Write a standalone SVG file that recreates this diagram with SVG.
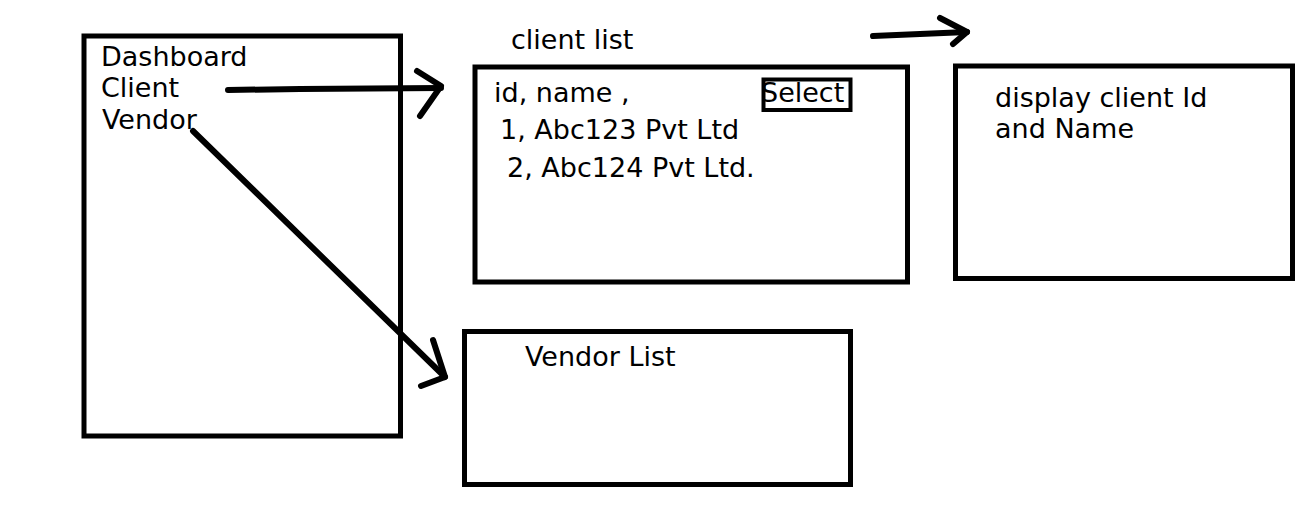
<svg xmlns="http://www.w3.org/2000/svg" width="1310" height="513" viewBox="0 0 1310 513">
<style>
.box{fill:none;stroke:#000;stroke-width:5}
.sel{fill:none;stroke:#000;stroke-width:4}
.t{font-family:"DejaVu Sans",Verdana,sans-serif;font-size:27px;fill:#000}
.c{fill:none;stroke:#000;stroke-width:6;stroke-linecap:round;stroke-linejoin:round}
</style>
<rect width="1310" height="513" fill="#fff"/>
<g id="dashboard">
<rect class="box" x="84" y="36" width="316.5" height="400"/>
<text class="t" x="101" y="66">Dashboard</text>
<text class="t" x="101" y="97">Client</text>
<text class="t" x="102" y="129">Vendor</text>
</g>
<g id="client-list">
<text class="t" x="511" y="49">client list</text>
<rect class="box" x="475" y="67" width="432.5" height="215"/>
<text class="t" x="494" y="102">id, name ,</text>
<rect class="sel" x="763.5" y="79.5" width="87" height="30.5"/>
<text class="t" x="761" y="102">Select</text>
<text class="t" x="500" y="139">1, Abc123 Pvt Ltd</text>
<text class="t" x="507" y="177">2, Abc124 Pvt Ltd.</text>
</g>
<g id="display-client">
<rect class="box" x="955.5" y="66" width="337" height="212.5"/>
<text class="t" x="995" y="107">display client Id</text>
<text class="t" x="995" y="138">and Name</text>
</g>
<g id="vendor-list">
<rect class="box" x="464.5" y="331.5" width="386" height="153"/>
<text class="t" x="525" y="366">Vendor List</text>
</g>
<g id="connectors">
<path class="c" d="M228,90 L300,89 L441,88"/>
<path class="c" d="M417,71 L441,86 L420,116"/>
<path class="c" d="M193,131 L445,377"/>
<path class="c" d="M433,340 L445,377 L421,386"/>
<path class="c" d="M873,36 L967,32"/>
<path class="c" d="M940,18 L967,32 L953,44"/>
</g>
</svg>
